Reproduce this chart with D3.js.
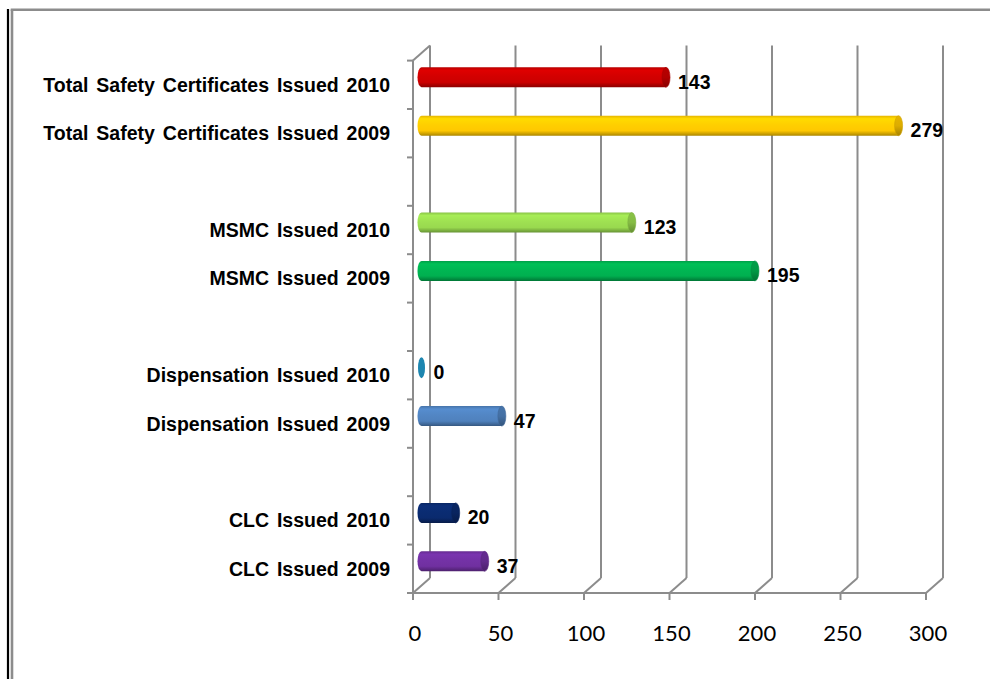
<!DOCTYPE html>
<html><head><meta charset="utf-8">
<script src="https://cdn.jsdelivr.net/npm/d3@7"></script>
<style>html,body{margin:0;padding:0;background:#fff;}svg{display:block;}</style>
</head><body>
<svg id="chart" width="990" height="679"></svg>
<script>
const categories = ["Total Safety Certificates Issued 2010","Total Safety Certificates Issued 2009","","MSMC Issued 2010","MSMC Issued 2009","","Dispensation Issued 2010","Dispensation Issued 2009","","CLC Issued 2010","CLC Issued 2009"];
const values = [143,279,null,123,195,null,0,47,null,20,37];
const barColors = ["#cc0000","#ffc800",null,"#99d94f","#00b050",null,"#1d86b0","#4f81bd",null,"#0a2a6e","#7030a0"];
const tickValues = [0,50,100,150,200,250,300];

const svg = d3.select("#chart");
const W = 990, H = 679;
const dx = 17, dy = -15;
const gridColor = "#8c8c8c";

const x = d3.scaleLinear().domain([0,300]).range([413,926]);
const y = d3.scaleBand().domain(d3.range(categories.length)).range([60.6,593]).padding(0);

// frame
svg.append("line").attr("x1",8).attr("x2",8).attr("y1",9).attr("y2",H).attr("stroke","#000").attr("stroke-width",2.2);
svg.append("line").attr("x1",12).attr("x2",12).attr("y1",9.5).attr("y2",H).attr("stroke",gridColor).attr("stroke-width",2.6);
svg.append("line").attr("x1",10.7).attr("x2",W).attr("y1",9.8).attr("y2",9.8).attr("stroke",gridColor).attr("stroke-width",2.6);

const g = svg.append("g");
const y0 = y.range()[0], y1 = y.range()[1];

// back wall gridlines, floor diagonals, ticks
tickValues.forEach(t => {
  g.append("line").attr("x1",x(t)+dx).attr("x2",x(t)+dx).attr("y1",y0+dy).attr("y2",y1+dy)
    .attr("stroke",gridColor).attr("stroke-width",2);
  g.append("line").attr("x1",x(t)).attr("y1",y1).attr("x2",x(t)+dx).attr("y2",y1+dy)
    .attr("stroke",gridColor).attr("stroke-width",2);
  g.append("line").attr("x1",x(t)).attr("x2",x(t)).attr("y1",y1).attr("y2",y1+7)
    .attr("stroke",gridColor).attr("stroke-width",2);
});
g.append("line").attr("x1",x(0)-1).attr("x2",x(300)+1).attr("y1",y1).attr("y2",y1).attr("stroke",gridColor).attr("stroke-width",2);
g.append("line").attr("x1",x(0)).attr("x2",x(0)).attr("y1",y0).attr("y2",y1).attr("stroke",gridColor).attr("stroke-width",2);
g.append("line").attr("x1",x(0)).attr("y1",y0).attr("x2",x(0)+dx).attr("y2",y0+dy).attr("stroke",gridColor).attr("stroke-width",2);
d3.range(categories.length+1).forEach(i => {
  const yy = y0 + i*y.step();
  g.append("line").attr("x1",x(0)-6).attr("x2",x(0)).attr("y1",yy).attr("y2",yy).attr("stroke",gridColor).attr("stroke-width",2);
});

// tick labels
tickValues.forEach(t => {
  g.append("text").attr("x",x(t)+2).attr("y",641).attr("text-anchor","middle")
    .attr("font-family","Lato, 'Open Sans', sans-serif").attr("font-size",22).attr("fill","#000").text(t);
});

// category labels
categories.forEach((c,i) => {
  if (!c) return;
  g.append("text").attr("x",390).attr("y",y(i)+y.bandwidth()/2).attr("dy","0.36em")
    .attr("text-anchor","end").attr("font-family","'Liberation Sans', Arial, sans-serif")
    .attr("font-weight","bold").attr("font-size",19.5).attr("word-spacing","2.5px").attr("fill","#000").text(c);
});

// gradients
const defs = svg.append("defs");
barColors.forEach((col,i) => {
  if (!col) return;
  const c = d3.color(col);
  const gr = defs.append("linearGradient").attr("id","grad"+i).attr("x1",0).attr("y1",0).attr("x2",0).attr("y2",1);
  gr.append("stop").attr("offset","0%").attr("stop-color",c.darker(0.3));
  gr.append("stop").attr("offset","15%").attr("stop-color",c.brighter(0.25));
  gr.append("stop").attr("offset","45%").attr("stop-color",c.brighter(0.1));
  gr.append("stop").attr("offset","75%").attr("stop-color",c);
  gr.append("stop").attr("offset","100%").attr("stop-color",c.darker(1.1));
  const gc = defs.append("linearGradient").attr("id","cap"+i).attr("x1",0).attr("y1",0).attr("x2",0).attr("y2",1);
  gc.append("stop").attr("offset","0%").attr("stop-color",c.darker(0.3));
  gc.append("stop").attr("offset","50%").attr("stop-color",c.darker(0.4));
  gc.append("stop").attr("offset","100%").attr("stop-color",c.darker(1.2));
});

// bars as cylinders at mid-depth
const bh = 20, rx = 4;
values.forEach((v,i) => {
  if (v === null) return;
  const cy = y(i) + y.bandwidth()/2 + dy/2;
  const xs = x(0) + dx/2, xe = x(v) + dx/2;
  if (xe - xs > 0.5) {
    g.append("path").attr("d",
      `M${xs},${cy-bh/2} L${xe},${cy-bh/2} L${xe},${cy+bh/2} L${xs},${cy+bh/2} A${rx},${bh/2} 0 0 1 ${xs},${cy-bh/2} Z`)
      .attr("fill",`url(#grad${i})`);
    g.append("ellipse").attr("cx",xe).attr("cy",cy).attr("rx",rx).attr("ry",bh/2)
      .attr("fill",`url(#cap${i})`).attr("stroke",d3.color(barColors[i]).darker(0.6)).attr("stroke-width",0.6);
  } else {
    g.append("ellipse").attr("cx",xs).attr("cy",cy).attr("rx",rx-0.5).attr("ry",bh/2 + 0.5)
      .attr("fill",barColors[i]);
  }
  g.append("text").attr("x", xe + rx + 8).attr("y", y(i) + y.bandwidth()/2 - 3).attr("dy","0.36em")
    .attr("font-family","'Liberation Sans', Arial, sans-serif").attr("font-weight","bold")
    .attr("font-size",19.5).attr("fill","#000").text(v);
});
</script>
</body></html>
